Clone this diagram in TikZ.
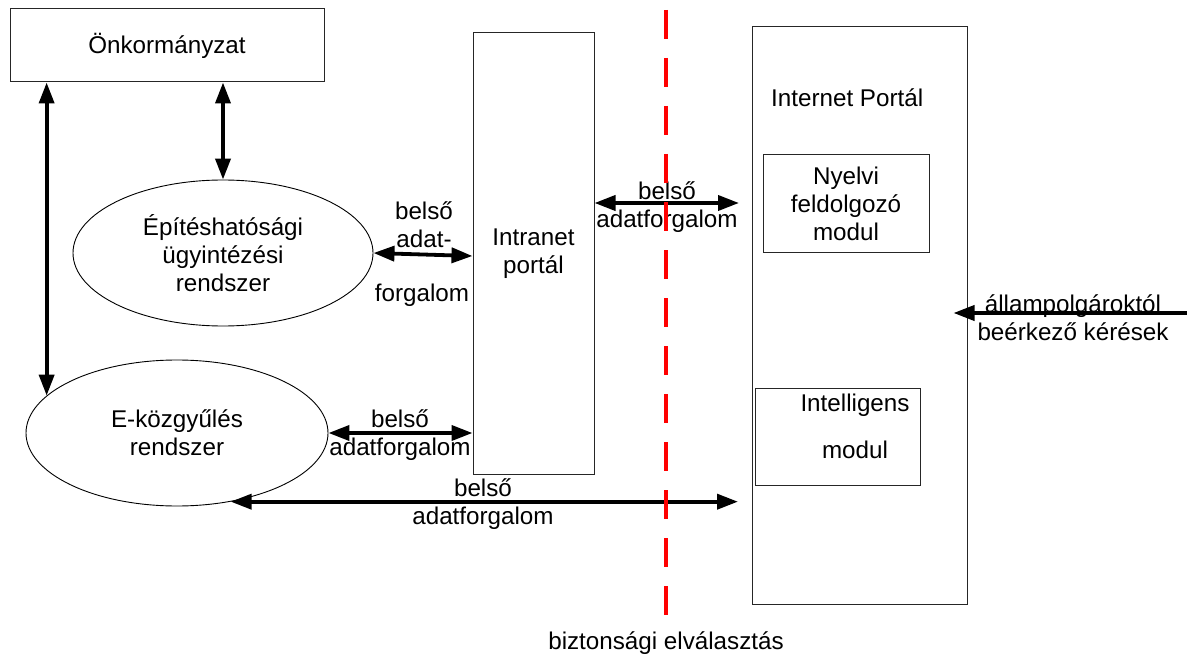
\documentclass[tikz,border=0pt]{standalone}
\usepackage{fontspec}
\setmainfont{Liberation Sans}
\usetikzlibrary{shapes.geometric,arrows.meta}
\tikzset{
  txt/.style={font=\fontsize{24.2pt}{28pt}\selectfont, align=center, inner sep=0pt},
  boxnode/.style={txt, draw=black!85, line width=1pt, rectangle},
  ellnode/.style={txt, draw=black, line width=0.9pt, ellipse},
  biarr/.style={line width=3.8pt, {Triangle[length=21pt,width=15pt]}-{Triangle[length=21pt,width=15pt]}},
  onearr/.style={line width=3.8pt, -{Triangle[length=21pt,width=15pt]}},
  sepline/.style={draw={rgb,255:red,255;green,0;blue,0}, line width=4pt, dash pattern=on 29pt off 19pt}
}
\begin{document}
\begin{tikzpicture}[x=1pt,y=-1pt]
\useasboundingbox (0,0) rectangle (1187,658);

% nodes
\node[boxnode, minimum width=314pt, minimum height=73pt] (onk) at (167,45.5) {Önkormányzat};
\node[ellnode, minimum width=300pt, minimum height=146pt] (epit) at (223,253) {Építéshatósági\\ügyintézési\\rendszer};
\node[ellnode, minimum width=302pt, minimum height=146pt] (ekoz) at (177,433) {E-közgyűlés\\rendszer};
\node[boxnode, minimum width=121pt, minimum height=441pt] (intra) at (533.5,253.5) {Intranet\\portál};
\node[boxnode, minimum width=215pt, minimum height=577pt] (inet) at (859.5,315.5) {};
\node[txt, anchor=west] (inetlbl) at (771,98) {Internet Portál};
\node[boxnode, minimum width=166pt, minimum height=97pt] (nyelv) at (846,203.5) {Nyelvi\\feldolgozó\\modul};
\node[boxnode, minimum width=165pt, minimum height=97pt] (intel) at (837.5,436.5) {};
\node[txt] (intellbl) at (855,426.5) {Intelligens\\[19pt]modul};

% free ends
\coordinate (c1) at (739,203);
\coordinate (c2) at (738,502);
\coordinate (c3) at (1187,313);

% connectors
\draw[biarr] (ekoz.164.5 |- onk.south) -- (ekoz.164.5);
\draw[biarr] (epit.north |- onk.south) -- (epit.north);
\draw[biarr] (epit.east) -- ([yshift=-2.5pt]intra.west);
\draw[biarr] (ekoz.east) -- (ekoz.east -| intra.west);
\draw[biarr] (c1 -| intra.east) -- (c1);
\draw[biarr] (ekoz.-52.8) -- (ekoz.-52.8 -| c2);
\draw[onearr] (c3) -- ([xshift=-14pt]c3 -| inet.east);

% connector labels
\node[txt] (l1) at (424,225) {belső\\adat-};
\node[txt] (l1b) at (422,295) {forgalom};
\node[txt] (l2) at (400,435) {belső\\adatforgalom};
\node[txt] (l3) at (667,207.5) {belső\\adatforgalom};
\node[txt] (l4) at (483,504.5) {belső\\adatforgalom};
\node[txt] (l5) at (1073,317.5) {állampolgároktól\\beérkező kérések};

% security separation
\coordinate (s1) at (666,10);
\coordinate (s2) at (666,617);
\draw[sepline] (s1) -- (s2);
\node[txt] (sl) at (666,643) {biztonsági elválasztás};
\end{tikzpicture}
\end{document}
